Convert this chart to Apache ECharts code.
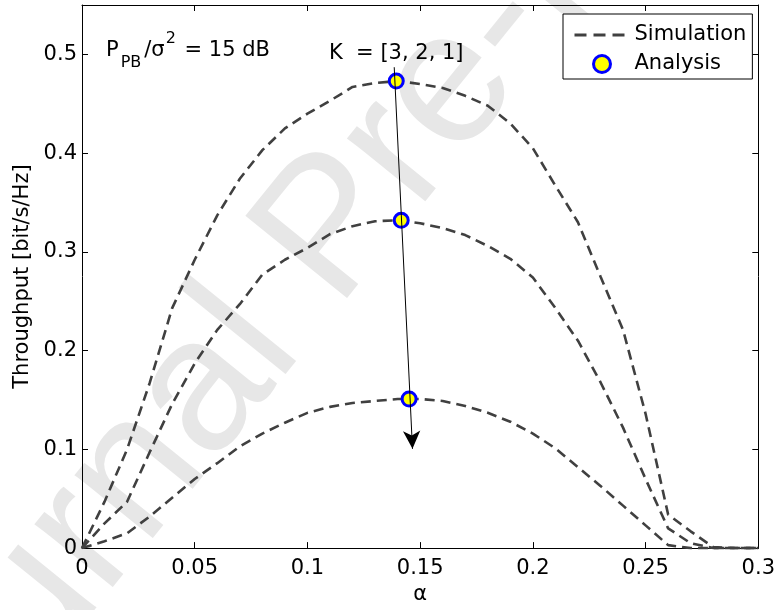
<!DOCTYPE html>
<html>
<head>
<meta charset="utf-8">
<script src="https://cdn.jsdelivr.net/npm/echarts@6/dist/echarts.min.js"></script>
<style>
  html, body { margin: 0; padding: 0; background: #fff; }
  #chart { width: 778px; height: 610px; }
</style>
</head>
<body>
<div id="chart"></div>
<script>
// Power-splitting ratio alpha (x) and throughput curves for K = 3, 2, 1
const alpha = [0, 0.01, 0.02, 0.03, 0.04, 0.05, 0.06, 0.07, 0.08, 0.09,
               0.10, 0.11, 0.12, 0.13, 0.14, 0.15, 0.16, 0.17, 0.18, 0.19,
               0.20, 0.21, 0.22, 0.23, 0.24, 0.25, 0.26, 0.27, 0.28, 0.29, 0.30];
const thrK3 = [0, 0.047, 0.100, 0.167, 0.243, 0.292, 0.337, 0.374, 0.403, 0.425,
               0.440, 0.453, 0.467, 0.471, 0.473, 0.470, 0.466, 0.458, 0.448, 0.430,
               0.405, 0.367, 0.330, 0.275, 0.221, 0.136, 0.034, 0.017, 0.001, 0, 0];
const thrK2 = [0, 0.025, 0.047, 0.097, 0.146, 0.187, 0.221, 0.247, 0.277, 0.292,
               0.304, 0.318, 0.326, 0.331, 0.332, 0.329, 0.324, 0.317, 0.306, 0.293,
               0.274, 0.243, 0.210, 0.168, 0.122, 0.070, 0.020, 0.005, 0, 0, 0];
const thrK1 = [0, 0.007, 0.015, 0.032, 0.051, 0.070, 0.086, 0.103, 0.116, 0.127,
               0.137, 0.143, 0.147, 0.149, 0.151, 0.151, 0.149, 0.144, 0.137, 0.128,
               0.116, 0.101, 0.082, 0.063, 0.043, 0.023, 0.003, 0, 0, 0, 0];

// Analytical optimum for each K
const analysisAlpha = [0.1394, 0.1416, 0.1451];
const analysisThr = [0.473, 0.332, 0.151];

// Arrow showing the direction of decreasing K
const arrowFrom = [0.1385, 0.487];
const arrowTo = [0.1466, 0.1005];

const FONT = '"DejaVu Sans", "Liberation Sans", Arial, sans-serif';
const pairs = (xs, ys) => xs.map((x, i) => [x, ys[i]]);

const dashed = { color: '#404040', width: 2.6, type: [10, 6] };
const marker = { color: '#ffff00', borderColor: '#0000ff', borderWidth: 3, opacity: 1 };

const chart = echarts.init(document.getElementById('chart'), null, { renderer: 'canvas' });

const frameAxis = {
  axisLine: { onZero: false, lineStyle: { color: '#000', width: 1 } },
  axisTick: { inside: true, length: 6, lineStyle: { color: '#000', width: 1 } },
  splitLine: { show: false }
};

const option = {
  animation: false,
  backgroundColor: '#fff',
  textStyle: { fontFamily: FONT },
  grid: { left: 82, right: 18, top: 5, bottom: 60.5 },
  xAxis: [
    Object.assign({
      type: 'value', min: 0, max: 0.3, interval: 0.05, position: 'bottom',
      axisLabel: { color: '#000', fontSize: 21, fontFamily: FONT, margin: 10 },
      name: 'α', nameLocation: 'middle', nameGap: 30,
      nameTextStyle: { color: '#000', fontSize: 21, fontFamily: FONT }
    }, frameAxis),
    Object.assign({
      type: 'value', min: 0, max: 0.3, interval: 0.05, position: 'top',
      axisLabel: { show: false }
    }, frameAxis)
  ],
  yAxis: [
    Object.assign({
      type: 'value', min: 0, max: 0.55, interval: 0.1, position: 'left',
      axisLabel: { color: '#000', fontSize: 21, fontFamily: FONT, margin: 5, showMaxLabel: false },
      name: 'Throughput [bit/s/Hz]', nameLocation: 'middle', nameGap: 47,
      nameTextStyle: { color: '#000', fontSize: 21, fontFamily: FONT }
    }, frameAxis),
    Object.assign({
      type: 'value', min: 0, max: 0.55, interval: 0.1, position: 'right',
      axisLabel: { show: false }
    }, frameAxis)
  ],
  legend: {
    data: [
      { name: 'Simulation', itemStyle: { opacity: 0 }, lineStyle: { color: '#404040', width: 3, type: [12, 7] } },
      { name: 'Analysis', itemStyle: marker }
    ],
    orient: 'vertical', left: 563, top: 14,
    padding: [8, 6, 2, 10], itemGap: 3, itemWidth: 55, itemHeight: 17,
    backgroundColor: '#fff', borderColor: '#000', borderWidth: 1, borderRadius: 0,
    textStyle: { color: '#000', fontSize: 21, fontFamily: FONT, lineHeight: 26 },
    selectedMode: false
  },
  graphic: [
    {
      type: 'text', z: -10, silent: true,
      x: 333, y: 232, rotation: 51 * Math.PI / 180,
      style: {
        text: 'Journal Pre-proof', fill: '#e7e7e7',
        fontSize: 190, fontFamily: '"Liberation Sans", Arial, sans-serif',
        align: 'center', verticalAlign: 'middle'
      }
    },
    {
      type: 'text', z: 10, silent: true, x: 106, y: 50.5,
      style: {
        text: '{m|P}{sub|PB}{m|/σ}{sup|2}{m| = 15 dB}',
        verticalAlign: 'middle', align: 'left',
        rich: {
          m: { fontSize: 21, fontFamily: FONT, fill: '#000', lineHeight: 40 },
          sub: { fontSize: 16, fontFamily: FONT, fill: '#000', lineHeight: 15, verticalAlign: 'bottom', padding: [0, 3, 0, 2] },
          sup: { fontSize: 16, fontFamily: FONT, fill: '#000', lineHeight: 29, verticalAlign: 'top', padding: [0, 2, 0, 1] }
        }
      }
    },
    {
      type: 'text', z: 10, silent: true, x: 329, y: 54,
      style: {
        text: 'K  = [3, 2, 1]', fontSize: 21, fontFamily: FONT, fill: '#000',
        align: 'left', verticalAlign: 'middle'
      }
    }
  ],
  series: [
    { name: 'Simulation', type: 'line', data: pairs(alpha, thrK3), symbol: 'none', lineStyle: dashed, itemStyle: { color: '#404040' }, silent: true, z: 2 },
    { name: 'Simulation', type: 'line', data: pairs(alpha, thrK2), symbol: 'none', lineStyle: dashed, itemStyle: { color: '#404040' }, silent: true, z: 2 },
    { name: 'Simulation', type: 'line', data: pairs(alpha, thrK1), symbol: 'none', lineStyle: dashed, itemStyle: { color: '#404040' }, silent: true, z: 2 },
    {
      name: 'Analysis', type: 'scatter', data: pairs(analysisAlpha, analysisThr),
      symbol: 'circle', symbolSize: 14, silent: true, z: 3,
      itemStyle: marker,
      markLine: {
        silent: true, z: 6,
        symbol: ['none', 'arrow'], symbolSize: [13, 18],
        label: { show: false },
        lineStyle: { color: '#000', width: 1, type: 'solid' },
        emphasis: { disabled: true },
        data: [[{ coord: arrowFrom }, { coord: arrowTo }]]
      }
    }
  ]
};

chart.setOption(option);
</script>
</body>
</html>
